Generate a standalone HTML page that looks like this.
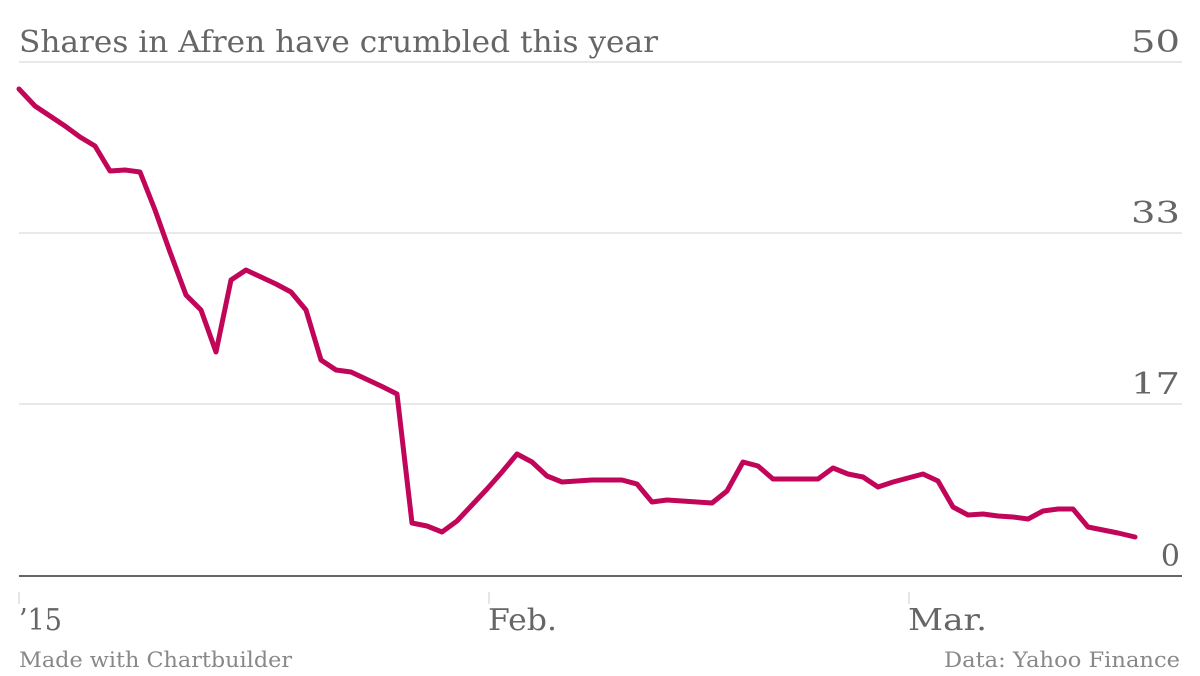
<!DOCTYPE html>
<html><head><meta charset="utf-8"><style>
html,body{margin:0;padding:0;background:#fff;}
svg{display:block;font-family:"DejaVu Serif","Liberation Serif",serif;}
</style></head><body>
<svg width="1200" height="676" viewBox="0 0 1200 676" xmlns="http://www.w3.org/2000/svg">
<g stroke="#e2e2e2" stroke-width="1.5">
<line x1="19" y1="62" x2="1182" y2="62"/>
<line x1="19" y1="233" x2="1182" y2="233"/>
<line x1="19" y1="404" x2="1182" y2="404"/>
</g>
<line x1="19" y1="576" x2="1182" y2="576" stroke="#666" stroke-width="2"/>
<g stroke="#ddd" stroke-width="1.5">
<line x1="19" y1="592" x2="19" y2="604"/>
<line x1="489" y1="592" x2="489" y2="604"/>
<line x1="909" y1="592" x2="909" y2="604"/>
</g>
<text x="19" y="52" font-size="30" fill="#666" textLength="639" lengthAdjust="spacingAndGlyphs">Shares in Afren have crumbled this year</text>
<g font-size="30" fill="#666" text-anchor="end">
<text x="1180" y="52" textLength="49" lengthAdjust="spacingAndGlyphs">50</text>
<text x="1180" y="223" textLength="49" lengthAdjust="spacingAndGlyphs">33</text>
<text x="1180" y="394" textLength="49" lengthAdjust="spacingAndGlyphs">17</text>
<text x="1180" y="566">0</text>
</g>
<g font-size="30" fill="#666">
<text x="19" y="630" textLength="43" lengthAdjust="spacingAndGlyphs">’15</text>
<text x="488" y="630" textLength="69" lengthAdjust="spacingAndGlyphs">Feb.</text>
<text x="908" y="630" textLength="79" lengthAdjust="spacingAndGlyphs">Mar.</text>
</g>
<text x="19" y="667" font-size="21" fill="#888" textLength="273" lengthAdjust="spacingAndGlyphs">Made with Chartbuilder</text>
<text x="944" y="667" font-size="21" fill="#888" textLength="236" lengthAdjust="spacingAndGlyphs">Data: Yahoo Finance</text>
<polyline fill="none" stroke="#c1065a" stroke-width="5" stroke-linejoin="round" stroke-linecap="round"
points="19,89 35,106 50,116 65,126 80,137 95,146 110,171 125,170 140,172 155,210 170,252 186,295 201,310 216,352 231,280 246,270 261,277 276,284 291,292 306,310 321,360 336,370 351,372 366,379 381,386 397,394 412,523 427,526 442,532 457,521 472,505 487,489 502,472 517,454 532,462 547,476 562,482 577,481 592,480 607,480 622,480 637,484 652,502 667,500 682,501 697,502 712,503 727,491 743,462 758,466 773,479 788,479 803,479 818,479 833,468 848,474 863,477 878,487 893,482 908,478 923,474 938,481 953,507 968,515 983,514 998,516 1013,517 1028,519 1043,511 1058,509 1073,509 1088,527 1103,530 1118,533 1135,537"/>
</svg>
</body></html>
